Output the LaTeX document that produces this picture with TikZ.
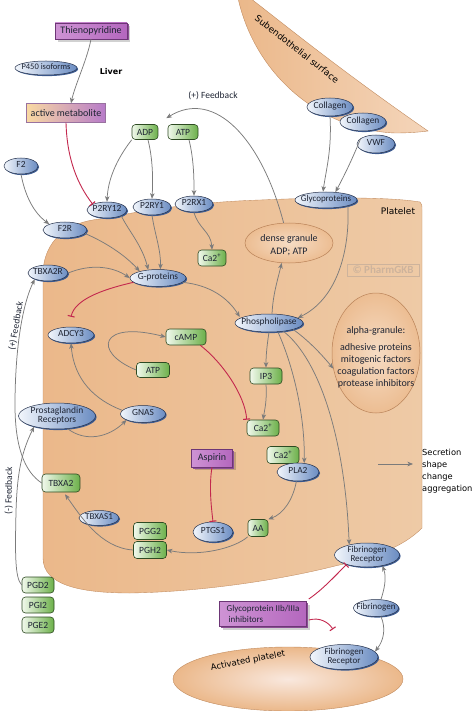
\documentclass[tikz,border=0pt]{standalone}
\usepackage{fontspec}
\setmainfont{Carlito}
\newfontfamily\comicf{DejaVu Sans}
\usetikzlibrary{shapes.geometric,arrows.meta,shadows,calc}
\definecolor{blueL}{HTML}{F2F6FC}
\definecolor{blueR}{HTML}{6A8CC2}
\definecolor{blueD}{HTML}{26324C}
\definecolor{blueS}{HTML}{3D5C92}
\definecolor{greenL}{HTML}{F1F9EC}
\definecolor{greenR}{HTML}{6CB04A}
\definecolor{greenD}{HTML}{2D4A22}
\definecolor{purL}{HTML}{CE93D4}
\definecolor{purR}{HTML}{B467BE}
\definecolor{purD}{HTML}{6D3676}
\definecolor{purS}{HTML}{8C4F94}
\definecolor{tanA}{HTML}{EBB88A}
\definecolor{tanB}{HTML}{F9E8DE}
\definecolor{tanC}{HTML}{EECAA6}
\definecolor{tanD}{HTML}{F4D5BA}
\definecolor{tanE}{HTML}{C18B5F}
\definecolor{granI}{HTML}{F6DCC4}
\definecolor{granO}{HTML}{ECBD92}
\definecolor{granE}{HTML}{B98258}
\definecolor{arrG}{HTML}{7B7B7B}
\definecolor{inhR}{HTML}{C3284E}
\definecolor{txtD}{HTML}{1E2433}
\definecolor{wmC}{HTML}{CDB39C}
\definecolor{orgL}{HTML}{F9D9A2}
\definecolor{purM}{HTML}{B77BC9}
\newcommand\zt[1]{\makebox[0pt]{\def\arraystretch{0.9}\begin{tabular}{@{}c@{}}#1\end{tabular}}}
\newcommand\catwo{Ca2\textsuperscript{+}}
\tikzset{
  bl/.style={ellipse, draw=blueD, line width=0.5pt, left color=blueL, right color=blueR,
    inner xsep=0pt, inner ysep=-3pt, text=txtD, font=\fontsize{9.4}{9.8}\selectfont,
    drop shadow={fill=blueS, opacity=1, shadow xshift=1.1pt, shadow yshift=-1.1pt}},
  gr/.style={rectangle, rounded corners=3.5pt, draw=greenD, line width=0.6pt,
    left color=greenL, right color=greenR, inner sep=0.5pt, text=txtD,
    font=\fontsize{9.5}{10}\selectfont},
  pu/.style={rectangle, draw=purD, line width=0.5pt, left color=purL, right color=purR,
    inner sep=0.5pt, text=txtD, font=\fontsize{10}{11}\selectfont,
    drop shadow={fill=black, opacity=0.18, shadow xshift=3pt, shadow yshift=-3pt},
    drop shadow={fill=purS, opacity=1, shadow xshift=1.5pt, shadow yshift=-1.5pt}},
  gran/.style={ellipse, draw=granE, line width=0.5pt, inner color=granI, outer color=granO, inner sep=0pt},
  lab/.style={text=txtD, font=\fontsize{9.5}{10}\selectfont, inner sep=0pt},
  comic/.style={text=black, inner sep=0pt},
  arr/.style={draw=arrG, line width=0.75pt, -{Stealth[length=5.5pt,width=4.5pt,inset=1.5pt]}},
  inh/.style={draw=inhR, line width=0.9pt, -{Bar[width=7pt,line width=1.1pt]}},
  sz/.style 2 args={minimum width=#1pt, minimum height=#2pt},
}
\begin{document}
\begin{tikzpicture}[x=1pt,y=-1pt]
\useasboundingbox (0,0) rectangle (474,711);
% subendothelial surface
\path[left color=tanA, right color=tanD, draw=tanE, line width=0.4pt]
  (238,-2) .. controls (255,75) and (320,130) .. (395,133)
  .. controls (410,133) and (420,132) .. (428,131)
  .. controls (340,70) and (285,25) .. (250,-2) -- cycle;
\node[comic, rotate=-38, font=\comicf\fontsize{9}{9}\selectfont] (subtxt) at (297,49) {Subendothelial surface};
% platelet body
\path[left color=tanA, middle color=tanB, right color=tanC, draw=tanE, line width=0.35pt]
  (43,558) -- (43,275) .. controls (43,240) and (68,222) .. (100,219)
  .. controls (150,209) and (200,202) .. (260,200)
  .. controls (330,197) and (390,197) .. (420,202)
  .. controls (422,203) and (422,206) .. (422,210) -- (422,528)
  .. controls (402,548) and (372,558) .. (335,566)
  .. controls (280,580) and (200,592) .. (130,593)
  .. controls (80,593) and (43,585) .. (43,558) -- cycle;
% activated platelet
\node[ellipse, sz={230}{64}, draw=tanE, line width=0.4pt, inner color=tanB, outer color=tanA] (actp) at (288,679) {};
\node[comic, rotate=11, font=\comicf\fontsize{8.5}{8.5}\selectfont] (actptxt) at (248,661) {Activated platelet};
% granules
\node[gran, sz={88}{40}] (dense) at (289,243) {};
\node[lab, align=center, font=\fontsize{10}{13}\selectfont] (densetxt) at (289,245) {dense granule\\ADP; ATP};
\node[gran, sz={88}{120}] (alpha) at (376,353) {};
\node[lab, align=center, font=\fontsize{10}{11.7}\selectfont] (alphatxt) at (376,357) {alpha-granule:\\[6pt]adhesive proteins\\mitogenic factors\\coagulation factors\\protease inhibitors};
% labels
\node[draw=wmC, line width=0.6pt, text=wmC, font=\bfseries\fontsize{11}{11}\selectfont, sz={72}{12}, inner sep=0pt] (wm) at (383,270) {\textcopyright\ PharmGKB};
\node[comic, font=\comicf\fontsize{9}{9}\selectfont] (plttxt) at (398,211) {Platelet};
\node[comic, font=\comicf\bfseries\fontsize{8}{8}\selectfont] (liver) at (111,72) {Liver};
\node[lab] (fbtop) at (213,96) {(+) Feedback};
\node[lab, rotate=80] (fbplus) at (16,326) {(+) Feedback};
\node[lab, rotate=89] (fbminus) at (9,491) {(-) Feedback};
\node[comic, anchor=west, align=left, font=\comicf\fontsize{8.3}{12}\selectfont] (sec) at (422,471) {Secretion\\shape\\change\\aggregation};
% top region
\node[pu, sz={72}{16}] (thieno) at (91,31) {Thienopyridine};
\node[bl, sz={62}{14}, font=\fontsize{8.5}{9}\selectfont] (p450) at (46,68) {\zt{P450 isoforms}};
\node[rectangle, draw=purD!70, line width=0.4pt, left color=orgL, right color=purM, text=txtD, font=\fontsize{10}{11}\selectfont, sz={79}{19}, inner sep=0pt] (actmet) at (66,113) {active metabolite};
\node[gr, sz={26}{15}] (adp) at (145,132) {ADP};
\node[gr, sz={30}{15}] (atp1) at (183,132) {ATP};
\node[bl, sz={34}{16}] (f2) at (21,166) {\zt{F2}};
\node[bl, sz={40}{16}] (p2ry12) at (107,210) {\zt{P2RY12}};
\node[bl, sz={38}{16}] (p2ry1) at (152,207) {\zt{P2RY1}};
\node[bl, sz={38}{16}] (p2rx1) at (194,204) {\zt{P2RX1}};
\node[gr, sz={28}{16}] (ca1) at (212,258) {\catwo};
\node[bl, sz={44}{16}] (f2r) at (65,230) {\zt{F2R}};
\node[bl, sz={40}{16}] (tbxa2r) at (48,273) {\zt{TBXA2R}};
\node[bl, sz={56}{17}] (gprot) at (158,278) {\zt{G-proteins}};
\node[bl, sz={46}{16}] (adcy3) at (71,335) {\zt{ADCY3}};
\node[gr, sz={40}{16}] (camp) at (186,337) {cAMP};
\node[gr, sz={33}{15}] (atp2) at (153,370) {ATP};
\node[bl, sz={45}{17}] (gnas) at (143,414) {\zt{GNAS}};
\node[bl, sz={77}{26}, font=\fontsize{9.5}{10}\selectfont] (prost) at (57,416) {\zt{Prostaglandin\\Receptors}};
\node[gr, sz={38}{18}] (tbxa2) at (61,483) {TBXA2};
\node[bl, sz={40}{15}, font=\fontsize{9}{9.5}\selectfont] (tbxas1) at (99,518) {\zt{TBXAS1}};
\node[gr, sz={33}{17}] (pgg2) at (150,531) {PGG2};
\node[gr, sz={33}{17}] (pgh2) at (150,550) {PGH2};
\node[bl, sz={40}{20}] (ptgs1) at (213,532) {\zt{PTGS1}};
\node[pu, sz={41}{18}] (aspirin) at (212,458) {Aspirin};
\node[gr, sz={20}{17}] (aa) at (258,528) {AA};
\node[gr, sz={32}{17}] (ca3) at (283,455) {\catwo};
\node[bl, sz={42}{18}] (pla2) at (298,472) {\zt{PLA2}};
\node[gr, sz={32}{16}] (ca2) at (263,428) {\catwo};
\node[gr, sz={32}{16}] (ip3) at (266,376) {IP3};
\node[bl, sz={68}{18}] (phos) at (269,323) {\zt{Phospholipase}};
\node[bl, sz={62}{16}, font=\fontsize{9}{9.5}\selectfont] (glyco) at (326,200) {\zt{Glycoproteins}};
\node[bl, sz={46}{18}] (coll1) at (330,107) {\zt{Collagen}};
\node[bl, sz={46}{18}] (coll2) at (363,122) {\zt{Collagen}};
\node[bl, sz={38}{18}] (vwf) at (376,144) {\zt{VWF}};
\node[bl, sz={65}{24}, font=\fontsize{9}{9.5}\selectfont] (fibR1) at (367,555) {\zt{Fibrinogen\\Receptor}};
\node[bl, sz={45}{17}, font=\fontsize{9}{9.5}\selectfont] (fibrinogen) at (376,608) {\zt{Fibrinogen}};
\node[pu, sz={87}{25}, align=left, font=\fontsize{9}{10.5}\selectfont] (gp) at (263,614) {Glycoprotein IIb/IIIa\\\hspace{2pt}inhibitors};
\node[bl, sz={68}{25}, font=\fontsize{9}{9.5}\selectfont] (fibR2) at (344,657) {\zt{Fibrinogen\\Receptor}};
\node[gr, sz={32}{16}] (pgd2) at (38,585) {PGD2};
\node[gr, sz={32}{16}] (pgi2) at (38,605) {PGI2};
\node[gr, sz={32}{16}] (pge2) at (38,625) {PGE2};
\coordinate (secA) at (378,464);
% connectors
\draw[arr] (thieno.south) .. controls (87,60) and (75,85) .. ($(actmet.north)+(5,0)$);
\draw[inh] (actmet.south) .. controls (67,160) and (78,185) .. (p2ry12.north west);
\draw[arr] (dense.105) .. controls (262,140) and (215,88) .. ($(adp.north east)+(8,-6)$);
\draw[arr] (adp.south west) .. controls (116,160) and (108,180) .. (p2ry12.north);
\draw[arr] ($(adp.south)+(3,0)$) .. controls (153,160) and (153,180) .. (p2ry1.north);
\draw[arr] ($(atp1.south)+(6,0)$) .. controls (194,160) and (194,180) .. (p2rx1.north);
\draw[arr] (p2rx1.south) .. controls (198,228) and (211,232) .. (ca1.north);
\draw[arr] (f2.south) .. controls (25,195) and (33,212) .. (f2r.north west);
\draw[arr] (p2ry12.south east) .. controls (128,230) and (142,245) .. (gprot.140);
\draw[arr] (p2ry1.south) .. controls (155,235) and (161,250) .. (gprot.75);
\draw[arr] (f2r.-10) .. controls (105,242) and (125,255) .. (gprot.160);
\draw[arr] (tbxa2r.east) .. controls (90,264) and (112,266) .. (gprot.west);
\draw[inh] (gprot.190) .. controls (100,290) and (75,300) .. ($(adcy3.north)+(0,-10)$);
\draw[arr] (gprot.-10) .. controls (210,285) and (228,298) .. ($(phos.west)+(5,-6)$);
\draw[arr] (atp2.west) .. controls (92,352) and (100,320) .. (camp.west);
\draw[inh] ($(camp.south east)+(-6,0)$) .. controls (222,362) and (245,395) .. (ca2.north west);
\draw[arr] (gnas.170) .. controls (95,400) and (74,380) .. (adcy3.south);
\draw[arr] (prost.-50) .. controls (85,442) and (108,438) .. (gnas.200);
\draw[arr] ($(phos.north)+(3,0)$) .. controls (273,295) and (277,282) .. (dense.250);
\draw[arr] (glyco.-15) .. controls (350,255) and (335,300) .. (phos.10);
\draw[arr] (coll1.south) .. controls (332,150) and (326,170) .. (glyco.110);
\draw[arr] (vwf.160) .. controls (352,160) and (343,178) .. (glyco.40);
\draw[arr] (phos.south) .. controls (267,345) and (266,355) .. (ip3.north);
\draw[arr] (ip3.south) .. controls (267,400) and (265,408) .. (ca2.north);
\draw[arr] (phos.-45) .. controls (295,370) and (305,420) .. (pla2.55);
\draw[arr] (phos.-30) .. controls (320,360) and (345,440) .. (fibR1.150);
\draw[arr] (phos.-15) .. controls (305,338) and (318,350) .. (alpha.200);
\draw[arr] (pla2.-100) .. controls (293,500) and (283,514) .. (aa.north east);
\draw[arr] (aa.south west) .. controls (235,548) and (200,557) .. (pgh2.east);
\draw[inh] (aspirin.south) .. controls (209,485) and (211,505) .. (ptgs1.north);
\draw[arr] (pgh2.west) .. controls (100,548) and (80,515) .. ($(tbxa2.south)+(4,2)$);
\draw[arr] (tbxa2.west) .. controls (25,472) and (15,448) .. (15,405) .. controls (15,360) and (20,310) .. (tbxa2r.205);
\draw[arr] (pgd2.west) .. controls (15,578) and (15,555) .. (16,512) .. controls (17,478) and (20,455) .. (prost.205);
\draw[arr] (fibrinogen.60) .. controls (384,590) and (387,578) .. (fibR1.-35);
\draw[arr] (fibrinogen.-60) .. controls (386,628) and (384,640) .. (fibR2.10);
\draw[inh] ($(gp.east)+(2,-15)$) .. controls (322,590) and (333,578) .. (fibR1.205);
\draw[inh] ($(gp.east)+(2,6)$) .. controls (320,617) and (328,622) .. ($(fibR2.north)+(-11,-15)$);
\draw[arr] (secA) -- ($(sec.west)+(-9,-7)$);
\end{tikzpicture}
\end{document}
